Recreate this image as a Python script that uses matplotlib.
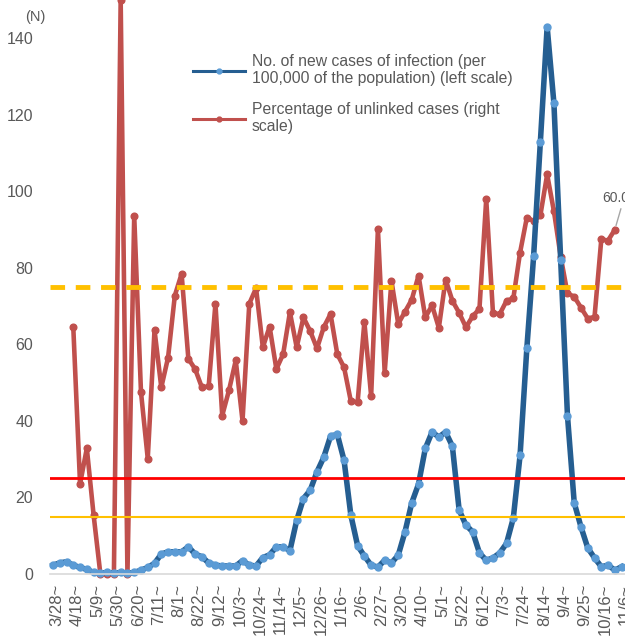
import matplotlib
matplotlib.use("Agg")
import matplotlib.pyplot as plt
import matplotlib.transforms as mtransforms
from matplotlib.lines import Line2D

plt.rcParams['font.family'] = ['Liberation Sans', 'DejaVu Sans']

# week labels (every 3 weeks)
tick_labels = ['3/28~', '4/18~', '5/9~', '5/30~', '6/20~', '7/11~', '8/1~', '8/22~',
               '9/12~', '10/3~', '10/24~', '11/14~', '12/5~', '12/26~', '1/16~', '2/6~',
               '2/27~', '3/20~', '4/10~', '5/1~', '5/22~', '6/12~', '7/3~', '7/24~',
               '8/14~', '9/4~', '9/25~', '10/16~', '11/6~']

# new cases per 100,000 (left scale), weeks 0..84
new_cases = [2.3, 2.9, 3.2, 2.3, 1.7, 1.2, 0.4, 0.2, 0.4, 0.2,
             0.4, 0.2, 0.4, 1.0, 1.7, 2.8, 5.2, 5.8, 5.8, 5.8,
             7.1, 5.2, 4.5, 2.9, 2.3, 2.1, 2.1, 2.1, 3.5, 2.3,
             2.1, 4.3, 5.0, 7.1, 7.1, 6.1, 14.0, 19.7, 21.9, 26.7,
             30.5, 36.0, 36.5, 29.7, 15.4, 7.4, 4.7, 2.3, 1.8, 3.6,
             2.9, 4.9, 11.0, 18.6, 23.5, 32.8, 37.1, 35.8, 37.1, 33.4,
             16.7, 12.8, 11.0, 5.5, 3.6, 4.2, 5.5, 8.0, 14.6, 31.0,
             59.0, 83.0, 113.0, 143.0, 123.0, 82.0, 41.4, 18.6, 12.3, 6.8,
             4.2, 1.9, 2.3, 1.0, 1.9]
weeks_cases = list(range(len(new_cases)))

# percentage of unlinked cases (right scale), weeks 3..83
unlinked = [43.0, 15.7, 21.9, 10.3, 0.0, 0.0, 0.0, 100.0, 0.0, 62.4,
            31.7, 20.1, 42.5, 32.5, 37.7, 48.5, 52.3, 37.5, 35.7, 32.5,
            32.7, 47.1, 27.6, 32.0, 37.2, 26.7, 47.1, 49.8, 39.5, 43.1,
            35.7, 38.3, 45.6, 39.5, 44.7, 42.3, 39.3, 43.0, 45.3, 38.3,
            36.0, 30.1, 29.9, 43.9, 31.0, 60.1, 35.1, 51.1, 43.6, 45.7,
            47.8, 52.0, 44.7, 46.8, 42.9, 51.3, 47.6, 45.5, 43.0, 44.9,
            46.2, 65.3, 45.4, 45.3, 47.6, 48.0, 56.0, 62.1, 61.5, 62.5,
            69.6, 63.2, 55.3, 48.9, 48.3, 46.4, 44.5, 44.8, 58.3, 58.1,
            60.0]
weeks_unlinked = list(range(3, 3 + len(unlinked)))

gray = '#595959'
blue_line = '#255E91'
blue_mark = '#5B9BD5'
red = '#C0504D'

fig = plt.figure(figsize=(6.25, 6.41), dpi=100)
ax = fig.add_axes([50 / 625, 67 / 641, 575 / 625, 574 / 641])
ax2 = ax.twinx()

# red series on right scale
ax2.plot(weeks_unlinked, unlinked, color=red, lw=3.3, marker='o', ms=4.8,
         mfc=red, mec=red, clip_on=False, solid_joinstyle='round')
ax2.set_ylim(0, 100)
ax2.set_yticks([])
for s in ax2.spines.values():
    s.set_visible(False)

# blue series on left scale, drawn on top
ax.set_zorder(ax2.get_zorder() + 1)
ax.patch.set_visible(False)
ax.plot(weeks_cases, new_cases, color=blue_line, lw=4.0, marker='o', ms=5,
        mfc=blue_mark, mec=blue_mark, clip_on=False, solid_joinstyle='round')

# reference lines
ax.axhline(75, color='#FFC000', lw=3.5, ls=(0, (3, 2.2)))
ax.axhline(25, color='#FF0000', lw=2)
ax.axhline(15, color='#FFC000', lw=1.5)

ax.set_xlim(-0.44, 84.5)
ax.set_ylim(0, 150)
ax.set_yticks(range(0, 141, 20))
ax.tick_params(axis='y', length=0, pad=12, labelsize=11.5, labelcolor=gray)
ax.set_xticks(range(0, 85, 3))
ax.set_xticklabels(tick_labels, rotation=90, fontsize=12, color=gray)
ax.tick_params(axis='x', length=0, pad=7)
offset = mtransforms.ScaledTranslation(0.04, 0, fig.dpi_scale_trans)
for lab in ax.get_xticklabels():
    lab.set_transform(lab.get_transform() + offset)

for side in ['top', 'right', 'left']:
    ax.spines[side].set_visible(False)
ax.spines['bottom'].set_color('#D9D9D9')
ax.spines['bottom'].set_linewidth(1.2)

fig.text(35 / 625, 1 - 17 / 641, '(N)', ha='center', va='center', fontsize=10.5, color=gray)

ax2.annotate('60.0', xy=(weeks_unlinked[-1], unlinked[-1]), xytext=(-13, 32),
             textcoords='offset pixels', ha='left', va='center', fontsize=10, color=gray,
             arrowprops=dict(arrowstyle='-', color='#A6A6A6', lw=1, relpos=(0.75, 0),
                             shrinkA=1, shrinkB=3))

handles = [Line2D([], [], color=blue_line, lw=2.2, marker='o', ms=3.5, mfc=blue_mark, mec=blue_mark),
           Line2D([], [], color=red, lw=2.2, marker='o', ms=3.5, mfc=red, mec=red)]
labels = ['No. of new cases of infection (per\n100,000 of the population) (left scale)',
          'Percentage of unlinked cases (right\nscale)']
leg = fig.legend(handles, labels, loc='upper left', bbox_to_anchor=(193 / 625, 1 - 54 / 641),
                 frameon=False, fontsize=11.3, handlelength=3.3, handletextpad=0.45,
                 labelspacing=1.0, borderpad=0, borderaxespad=0, labelcolor=gray)
for t in leg.get_texts():
    t.set_linespacing(1.2)

fig.savefig('out.png', dpi=100)
